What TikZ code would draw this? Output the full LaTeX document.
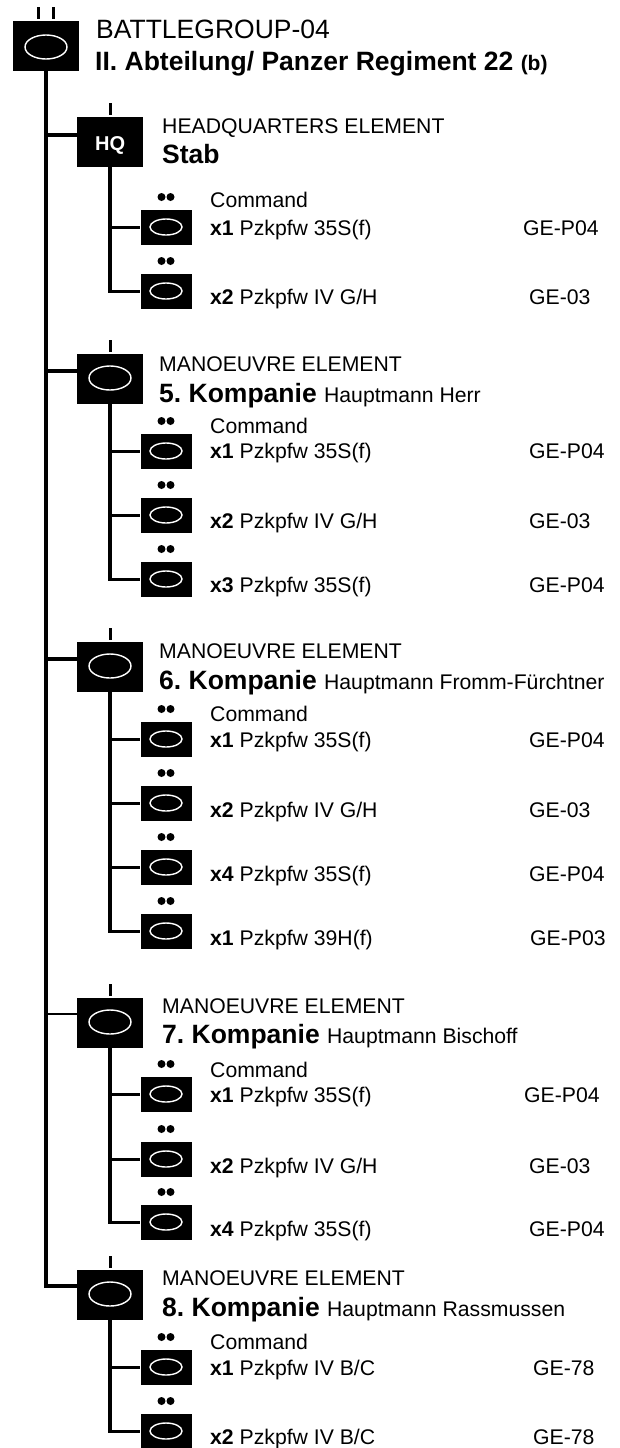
\documentclass[tikz,border=0pt]{standalone}
\usepackage{fontspec}
\setmainfont{Liberation Sans}
\usetikzlibrary{shapes.geometric}
\newcommand\midsize{\fontsize{21.2}{25}\selectfont}
\tikzset{
 x=1pt,y=-1pt,
 bigbox/.style={rectangle,fill=black,draw=none,minimum width=66pt,minimum height=50pt,inner sep=0pt},
 smallbox/.style={rectangle,fill=black,draw=none,minimum width=51pt,minimum height=35pt,inner sep=0pt},
 bigell/.style={ellipse,draw=white,line width=1.4pt,fill=none,minimum width=42pt,minimum height=24pt,inner sep=0pt},
 smallell/.style={ellipse,draw=white,line width=1.4pt,fill=none,minimum width=32pt,minimum height=16pt,inner sep=0pt},
 rank/.style={rectangle,fill=black,draw=none,minimum width=3pt,minimum height=12pt,inner sep=0pt},
 pip/.style={circle,fill=black,draw=none,minimum size=8pt,inner sep=0pt},
 trunk/.style={line width=3.6pt,draw=black},
 branch/.style={line width=3.4pt,draw=black,line join=miter},
 txt/.style={anchor=base west,inner sep=0pt,text=black},
 big/.style={txt,font=\frenchspacing\fontsize{26.5}{30}\selectfont},
 bigb/.style={txt,font=\frenchspacing\fontsize{26.5}{30}\selectfont\bfseries},
 mid/.style={txt,font=\frenchspacing\midsize},
}
% company box: name, top y, branch y
\newcommand\company[3]{%
 \node[bigbox] (#1) at (110,#2+25) {};
 \node[rank] (#1r) at (110,#2-8) {};
 \coordinate (#1w) at (77,#3);
}
% platoon box: parent, name, top y, text baseline, count, vehicle, code x, code
\newcommand\platoon[8]{%
 \node[smallbox] (#2) at (166,#3+17.5) {};
 \node[smallell] (#2e) at (166,#3+17) {};
 \node[pip] (#2a) at (161.5,#3-13) {};
 \node[pip] (#2b) at (170.5,#3-13) {};
 \draw[branch] (#1.south) |- (#2.west);
 \node[mid] (#2t) at (210,#4) {\textbf{#5} #6};
 \node[mid] (#2c) at (#7,#4) {#8};
}
\begin{document}
\begin{tikzpicture}
\useasboundingbox (0,0) rectangle (620,1448);
% top
\node[bigbox] (top) at (46,46) {};
\node[bigell] (tope) at (46,47) {};
\node[rank] (topr1) at (38,13) {};
\node[rank] (topr2) at (53,13) {};
\node[big] (t1) at (96,38) {BATTLEGROUP-04};
\node[bigb] (t2) at (95,70) {II. Abteilung/ Panzer Regiment 22 {\fontsize{21}{24}\selectfont (b)}};
% HQ
\company{hq}{117}{135}
\node[txt,text=white,font=\fontsize{20}{24}\selectfont\bfseries] (hql) at (95,150) {HQ};
\node[mid] (hq1) at (162,133) {HEADQUARTERS ELEMENT};
\node[bigb] (hq2) at (162,163) {Stab};
\node[mid] (hqc) at (210,207) {Command};
\platoon{hq}{hqa}{210}{235}{x1}{Pzkpfw 35S(f)}{523}{GE-P04}
\platoon{hq}{hqb}{274}{304}{x2}{Pzkpfw IV G/H}{529}{GE-03}
% 5
\company{cf}{354}{371}
\node[bigell] (cfe) at (110,378) {};
\node[mid] (cf1) at (159,371) {MANOEUVRE ELEMENT};
\node[bigb] (cf2) at (159,402) {5. Kompanie {\mdseries\midsize Hauptmann Herr}};
\node[mid] (cfc) at (210,433) {Command};
\platoon{cf}{cfa}{434}{458}{x1}{Pzkpfw 35S(f)}{529}{GE-P04}
\platoon{cf}{cfb}{498}{528}{x2}{Pzkpfw IV G/H}{529}{GE-03}
\platoon{cf}{cfd}{562}{592}{x3}{Pzkpfw 35S(f)}{529}{GE-P04}
% 6
\company{cs}{642}{659}
\node[bigell] (cse) at (110,666) {};
\node[mid] (cs1) at (159,658) {MANOEUVRE ELEMENT};
\node[bigb] (cs2) at (159,689) {6. Kompanie {\mdseries\midsize Hauptmann Fromm-Fürchtner}};
\node[mid] (csc) at (210,721) {Command};
\platoon{cs}{csa}{722}{747}{x1}{Pzkpfw 35S(f)}{529}{GE-P04}
\platoon{cs}{csb}{786}{817}{x2}{Pzkpfw IV G/H}{529}{GE-03}
\platoon{cs}{csd}{850}{881}{x4}{Pzkpfw 35S(f)}{529}{GE-P04}
\platoon{cs}{cse2}{914}{945}{x1}{Pzkpfw 39H(f)}{530}{GE-P03}
% 7
\company{cv}{998}{1014}
\node[bigell] (cve) at (110,1022) {};
\node[mid] (cv1) at (162,1013) {MANOEUVRE ELEMENT};
\node[bigb] (cv2) at (162,1043) {7. Kompanie {\mdseries\midsize Hauptmann Bischoff}};
\node[mid] (cvc) at (210,1077) {Command};
\platoon{cv}{cva}{1077}{1102}{x1}{Pzkpfw 35S(f)}{524}{GE-P04}
\platoon{cv}{cvb}{1142}{1173}{x2}{Pzkpfw IV G/H}{529}{GE-03}
\platoon{cv}{cvd}{1205}{1236}{x4}{Pzkpfw 35S(f)}{529}{GE-P04}
% 8
\company{ce}{1270}{1286}
\node[bigell] (cee) at (110,1294) {};
\node[mid] (ce1) at (162,1285) {MANOEUVRE ELEMENT};
\node[bigb] (ce2) at (162,1316) {8. Kompanie {\mdseries\midsize Hauptmann Rassmussen}};
\node[mid] (cec) at (210,1349) {Command};
\platoon{ce}{cea}{1350}{1375}{x1}{Pzkpfw IV B/C}{533}{GE-78}
\platoon{ce}{ceb}{1414}{1444}{x2}{Pzkpfw IV B/C}{533}{GE-78}
% trunk
\draw[trunk] (top.south) -- (top.south |- cew);
\draw[branch] (top.south |- hqw) -- (hqw);
\draw[branch] (top.south |- cfw) -- (cfw);
\draw[branch] (top.south |- csw) -- (csw);
\draw[line width=2.5pt,draw=black] (top.south |- cvw) -- (cvw);
\draw[branch] ([xshift=-1.8pt]top.south |- cew) -- (cew);
\end{tikzpicture}
\end{document}
